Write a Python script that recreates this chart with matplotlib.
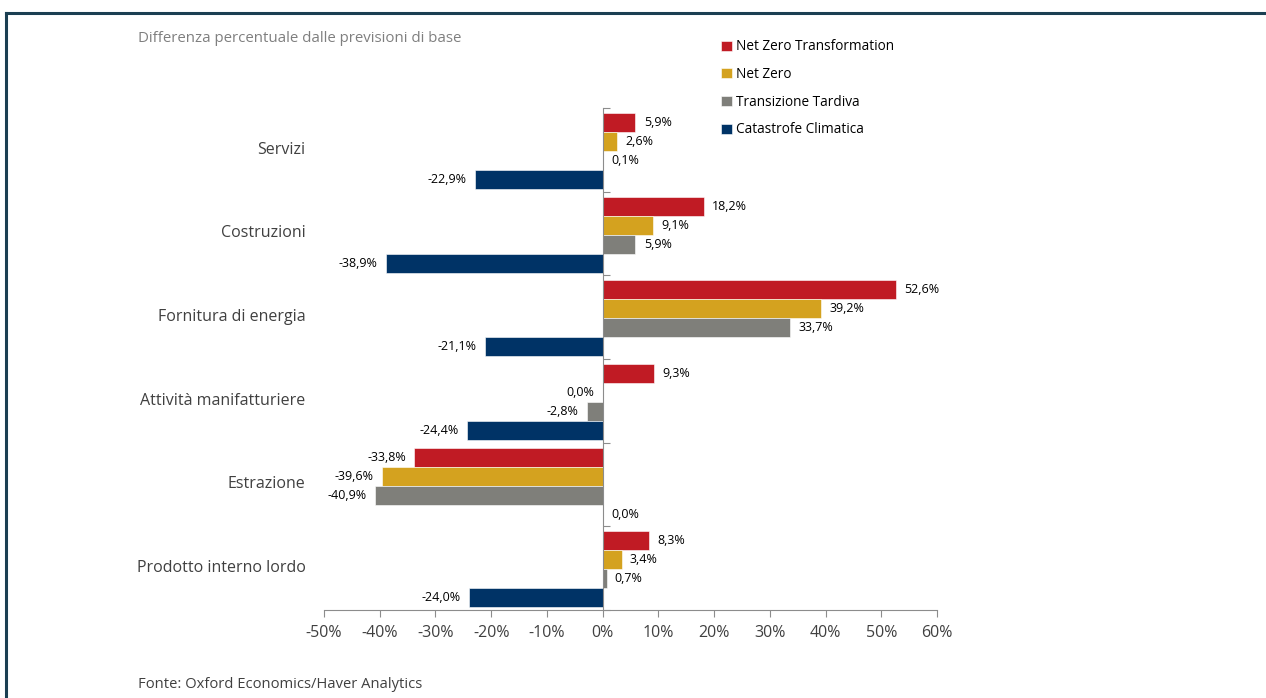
import numpy as np
import matplotlib
matplotlib.use("Agg")
import matplotlib.pyplot as plt
from matplotlib.lines import Line2D

plt.rcParams['font.family'] = ['Open Sans', 'DejaVu Sans']

categories = ["Servizi", "Costruzioni", "Fornitura di energia",
              "Attività manifatturiere", "Estrazione", "Prodotto interno lordo"]
series = ["Net Zero Transformation", "Net Zero", "Transizione Tardiva", "Catastrofe Climatica"]
colors = ["#C01B24", "#D4A21F", "#7F7F7A", "#003366"]

net_zero_transf = [5.9, 18.2, 52.6, 9.3, -33.8, 8.3]
net_zero = [2.6, 9.1, 39.2, -0.0, -39.6, 3.4]
transizione = [0.1, 5.9, 33.7, -2.8, -40.9, 0.7]
catastrofe = [-22.9, -38.9, -21.1, -24.4, 0.0, -24.0]
values = [net_zero_transf, net_zero, transizione, catastrofe]

xticks = list(range(-50, 61, 10))

fig = plt.figure(figsize=(12.66, 6.98), dpi=100)
ax = fig.add_axes([0.2559, 0.1261, 0.4842, 0.7192])

n = len(categories)
ypos = np.arange(n)[::-1]
h = 0.227
for j, (name, vals, c) in enumerate(zip(series, values, colors)):
    y = ypos - 0.015 + (1.5 - j) * h
    ax.barh(y, vals, height=h, color=c, edgecolor="white", linewidth=0.4, label=name)
    for yy, v in zip(y, vals):
        neg = np.signbit(v)
        txt = f"{v:.1f}".replace(".", ",").replace("-0,0", "0,0") + "%"
        ax.annotate(txt, (v, yy), xytext=(-6 if neg else 6, 0), textcoords="offset points",
                    ha="right" if neg else "left", va="center", fontsize=9, color="black")

ax.set_xlim(-50, 60)
ax.set_ylim(-0.5, n - 0.5)
ax.set_xticks(xticks)
ax.set_xticklabels([f"{t}%" for t in xticks], fontsize=11.5, color="#404040")
ax.tick_params(axis="x", direction="out", length=5, color="#8c8c8c", pad=6)

ax.spines["left"].set_position(("data", 0))
for s in ["top", "right"]:
    ax.spines[s].set_visible(False)
ax.spines["left"].set_color("#8c8c8c")
ax.spines["bottom"].set_color("#8c8c8c")
ax.set_yticks(np.arange(-0.5, n, 1.0))
ax.set_yticklabels([])
ax.tick_params(axis="y", direction="in", length=5, color="#8c8c8c")

for yy, cat in zip(ypos, categories):
    ax.text(-0.03, yy, cat, transform=ax.get_yaxis_transform(), ha="right", va="center",
            fontsize=11.5, color="#404040")

fig.text(138 / 1266, 1 - 38 / 698, "Differenza percentuale dalle previsioni di base",
         fontsize=10.8, color="#7f7f7f", va="center")
fig.text(138 / 1266, 1 - 684 / 698, "Fonte: Oxford Economics/Haver Analytics",
         fontsize=10.6, color="#404040", va="center")

fig.legend(loc="upper left", bbox_to_anchor=(716 / 1266, 1 - 34 / 698), frameon=False,
           fontsize=9.8, handlelength=0.75, handleheight=0.75, handletextpad=0.3,
           labelspacing=0.93, borderaxespad=0)

fig.add_artist(Line2D([6 / 1266, 1], [1 - 13 / 698] * 2, color="#1b3f52", lw=2.2))
fig.add_artist(Line2D([6 / 1266] * 2, [0, 1 - 13 / 698], color="#1b3f52", lw=2.2))

fig.savefig("out.png", dpi=100)
